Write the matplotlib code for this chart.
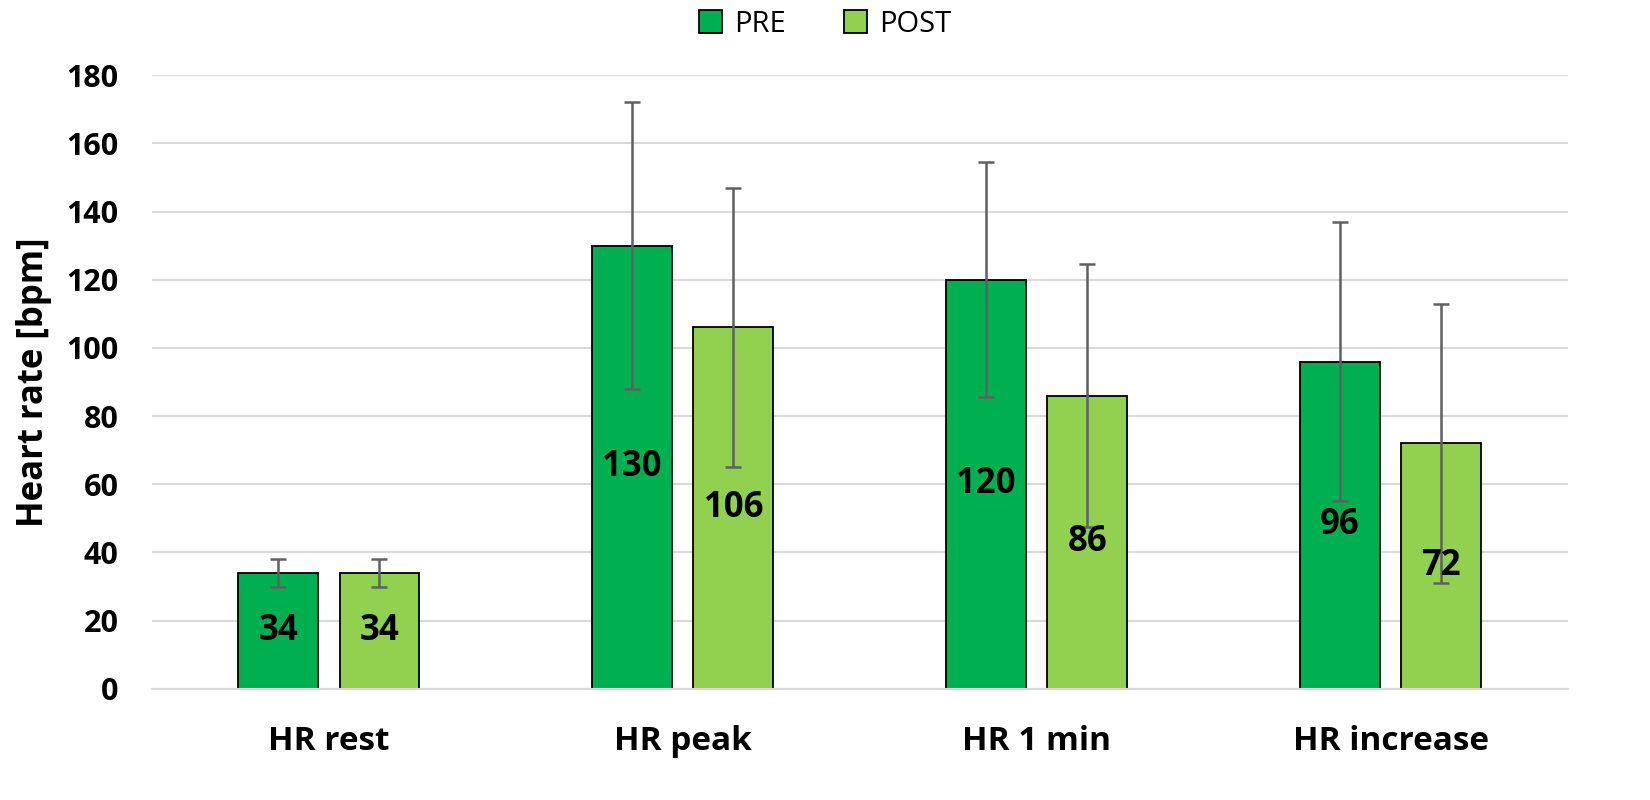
import matplotlib
matplotlib.use("Agg")
import matplotlib.pyplot as plt
import numpy as np

categories = ["HR rest", "HR peak", "HR 1 min", "HR increase"]
pre_values = [34, 130, 120, 96]
post_values = [34, 106, 86, 72]
pre_err = [4, 42, 34.5, 41]
post_err = [4, 41, 38.5, 41]
yticks = [0, 20, 40, 60, 80, 100, 120, 140, 160, 180]

plt.rcParams['font.family'] = ['Open Sans', 'DejaVu Sans']

fig = plt.figure(figsize=(16.5, 8), dpi=100)
ax = fig.add_axes([0.092, 0.139, 0.858, 0.767])

x = np.arange(len(categories))
w = 0.225
off = 0.143
pre_c = "#00B050"
post_c = "#92D050"
err_kw = dict(ecolor="#606060", elinewidth=1.8, capsize=6, capthick=1.8)

b1 = ax.bar(x - off, pre_values, w, color=pre_c, edgecolor="black", linewidth=1.3,
            yerr=pre_err, error_kw=err_kw, label="PRE", zorder=2)
b2 = ax.bar(x + off, post_values, w, color=post_c, edgecolor="black", linewidth=1.3,
            yerr=post_err, error_kw=err_kw, label="POST", zorder=2)

for xs, vals in ((x - off, pre_values), (x + off, post_values)):
    for xi, v in zip(xs, vals):
        ax.text(xi, v / 2, f"{v}", ha="center", va="center", fontsize=25,
                fontweight="bold", color="black", zorder=4)

ax.set_ylim(0, 180)
ax.set_xlim(-0.5, 3.5)
ax.set_yticks(yticks)
ax.set_xticks(x)
ax.set_xticklabels(categories, fontsize=24, fontweight="bold")
for lbl in ax.get_yticklabels():
    lbl.set_fontsize(22)
    lbl.set_fontweight("bold")
ax.tick_params(axis="both", length=0)
ax.tick_params(axis="x", pad=26)
ax.tick_params(axis="y", pad=24)
ax.grid(axis="y", color="#D9D9D9", linewidth=1.5, zorder=0)
ax.set_axisbelow(True)
for s in ("top", "right", "left"):
    ax.spines[s].set_visible(False)
ax.spines["bottom"].set_color("#D9D9D9")
ax.spines["bottom"].set_linewidth(1.5)

ax.set_ylabel("Heart rate [bpm]", fontsize=25, fontweight="bold", labelpad=10)

leg = fig.legend(handles=[b1, b2], labels=["PRE", "POST"], loc="center",
                 bbox_to_anchor=(0.5, 0.97), ncol=2, frameon=False, fontsize=21,
                 handlelength=0.8, handleheight=0.8, columnspacing=2.0, handletextpad=0.4)

fig.savefig("out.png", dpi=100)
